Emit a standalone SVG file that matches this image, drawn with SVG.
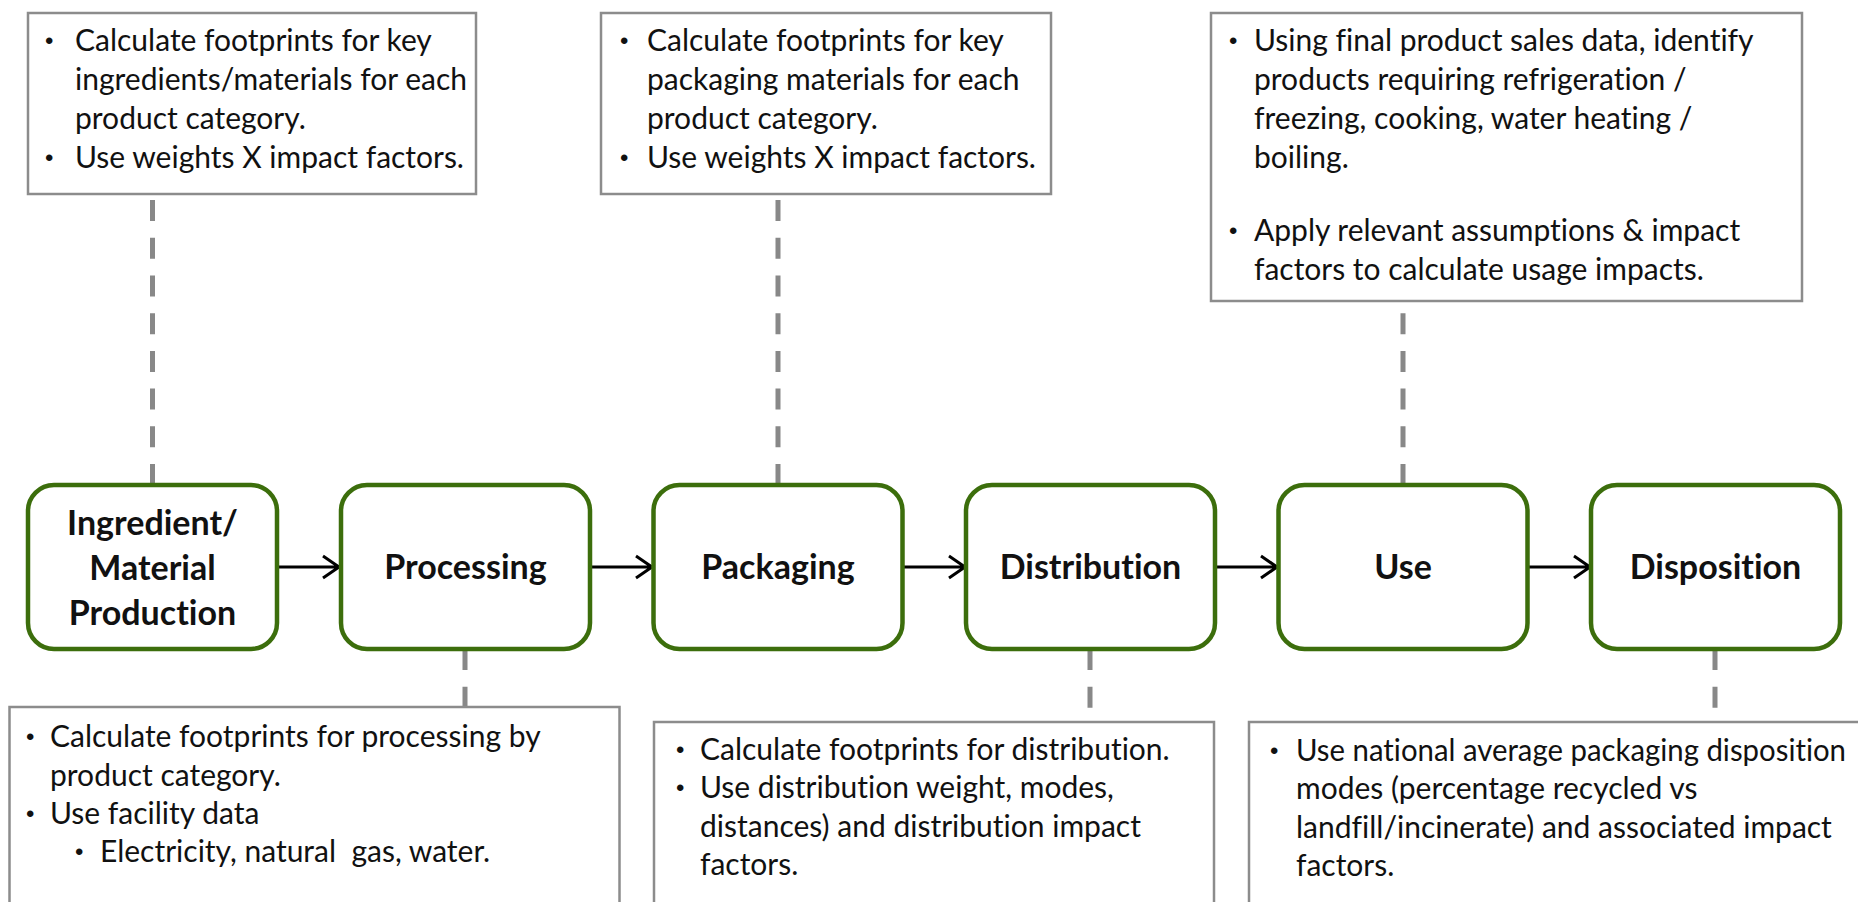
<svg xmlns="http://www.w3.org/2000/svg" width="1858" height="902" viewBox="0 0 1858 902">
<style>
.note{fill:#fff;stroke:#8c8c8c;stroke-width:2.5}
.node{fill:#fff;stroke:#3c6e0c;stroke-width:4.5}
.t{font-family:Lato,"Liberation Sans",sans-serif;font-size:30px;fill:#111;font-variant-ligatures:none}
.b{font-family:"Liberation Sans",sans-serif;font-size:24px;fill:#111}
.lbl{font-family:Lato,"Liberation Sans",sans-serif;font-size:34px;font-weight:bold;fill:#111;text-anchor:middle;font-variant-ligatures:none}
.dash{stroke:#888;stroke-width:5;stroke-dasharray:21 16.7;fill:none}
.arr{stroke:#000;stroke-width:3;fill:none}
</style>
<rect width="1858" height="902" fill="#fff"/>
<g id="connectors">
<path class="dash" d="M152.5 485V194"/>
<path class="dash" d="M778 485V194"/>
<path class="dash" d="M1403 485V301"/>
<path class="dash" d="M465 649V707"/>
<path class="dash" d="M1090 649V722"/>
<path class="dash" d="M1715 649V722"/>
<path class="arr" d="M277 567H339M323 556L339 567L323 578"/>
<path class="arr" d="M590 567H652M636 556L652 567L636 578"/>
<path class="arr" d="M903 567H965M949 556L965 567L949 578"/>
<path class="arr" d="M1215 567H1277M1261 556L1277 567L1261 578"/>
<path class="arr" d="M1528 567H1590M1574 556L1590 567L1574 578"/>
</g>
<g id="noteA">
<rect class="note" x="28" y="13" width="448" height="181"/>
<text class="b" x="45" y="49">•</text><text class="t" x="75" y="51">Calculate footprints for key</text>
<text class="t" x="75" y="90">ingredients/materials for each</text>
<text class="t" x="75" y="129">product category.</text>
<text class="b" x="45" y="166">•</text><text class="t" x="75" y="168">Use weights X impact factors.</text>
</g>
<g id="noteB">
<rect class="note" x="601" y="13" width="450" height="181"/>
<text class="b" x="620" y="49">•</text><text class="t" x="647" y="51">Calculate footprints for key</text>
<text class="t" x="647" y="90">packaging materials for each</text>
<text class="t" x="647" y="129">product category.</text>
<text class="b" x="620" y="166">•</text><text class="t" x="647" y="168">Use weights X impact factors.</text>
</g>
<g id="noteC">
<rect class="note" x="1211" y="13" width="591" height="288"/>
<text class="b" x="1229" y="49">•</text><text class="t" x="1254" y="51">Using final product sales data, identify</text>
<text class="t" x="1254" y="90">products requiring refrigeration /</text>
<text class="t" x="1254" y="129">freezing, cooking, water heating /</text>
<text class="t" x="1254" y="168">boiling.</text>
<text class="b" x="1229" y="239">•</text><text class="t" x="1254" y="241">Apply relevant assumptions &amp; impact</text>
<text class="t" x="1254" y="280">factors to calculate usage impacts.</text>
</g>
<g id="n1"><rect class="node" x="28" y="485" width="249" height="164" rx="26"/>
<text class="lbl" x="152.5" y="535">Ingredient/</text><text class="lbl" x="152.5" y="580">Material</text><text class="lbl" x="152.5" y="625">Production</text></g>
<g id="n2"><rect class="node" x="341" y="485" width="249" height="164" rx="26"/><text class="lbl" x="465.5" y="579">Processing</text></g>
<g id="n3"><rect class="node" x="653.5" y="485" width="249" height="164" rx="26"/><text class="lbl" x="778" y="579">Packaging</text></g>
<g id="n4"><rect class="node" x="966" y="485" width="249" height="164" rx="26"/><text class="lbl" x="1090.5" y="579">Distribution</text></g>
<g id="n5"><rect class="node" x="1278.5" y="485" width="249" height="164" rx="26"/><text class="lbl" x="1403" y="579">Use</text></g>
<g id="n6"><rect class="node" x="1591" y="485" width="249" height="164" rx="26"/><text class="lbl" x="1715.5" y="579">Disposition</text></g>
<g id="noteD">
<rect class="note" x="9.5" y="707" width="610" height="210"/>
<text class="b" x="26" y="745">•</text><text class="t" x="50" y="747">Calculate footprints for processing by</text>
<text class="t" x="50" y="786">product category.</text>
<text class="b" x="26" y="822">•</text><text class="t" x="50" y="824">Use facility data</text>
<text class="b" x="75" y="860">•</text><text class="t" x="100" y="862" style="white-space:pre">Electricity, natural  gas, water.</text>
</g>
<g id="noteE">
<rect class="note" x="654" y="722" width="560" height="200"/>
<text class="b" x="676" y="758">•</text><text class="t" x="700" y="760">Calculate footprints for distribution.</text>
<text class="b" x="676" y="796">•</text><text class="t" x="700" y="798">Use distribution weight, modes,</text>
<text class="t" x="700" y="837">distances) and distribution impact</text>
<text class="t" x="700" y="875">factors.</text>
</g>
<g id="noteF">
<rect class="note" x="1249" y="722" width="630" height="200"/>
<text class="b" x="1270" y="759">•</text><text class="t" x="1296" y="761" textLength="550" lengthAdjust="spacingAndGlyphs">Use national average packaging disposition</text>
<text class="t" x="1296" y="799">modes (percentage recycled vs</text>
<text class="t" x="1296" y="838">landfill/incinerate) and associated impact</text>
<text class="t" x="1296" y="876">factors.</text>
</g>
</svg>
